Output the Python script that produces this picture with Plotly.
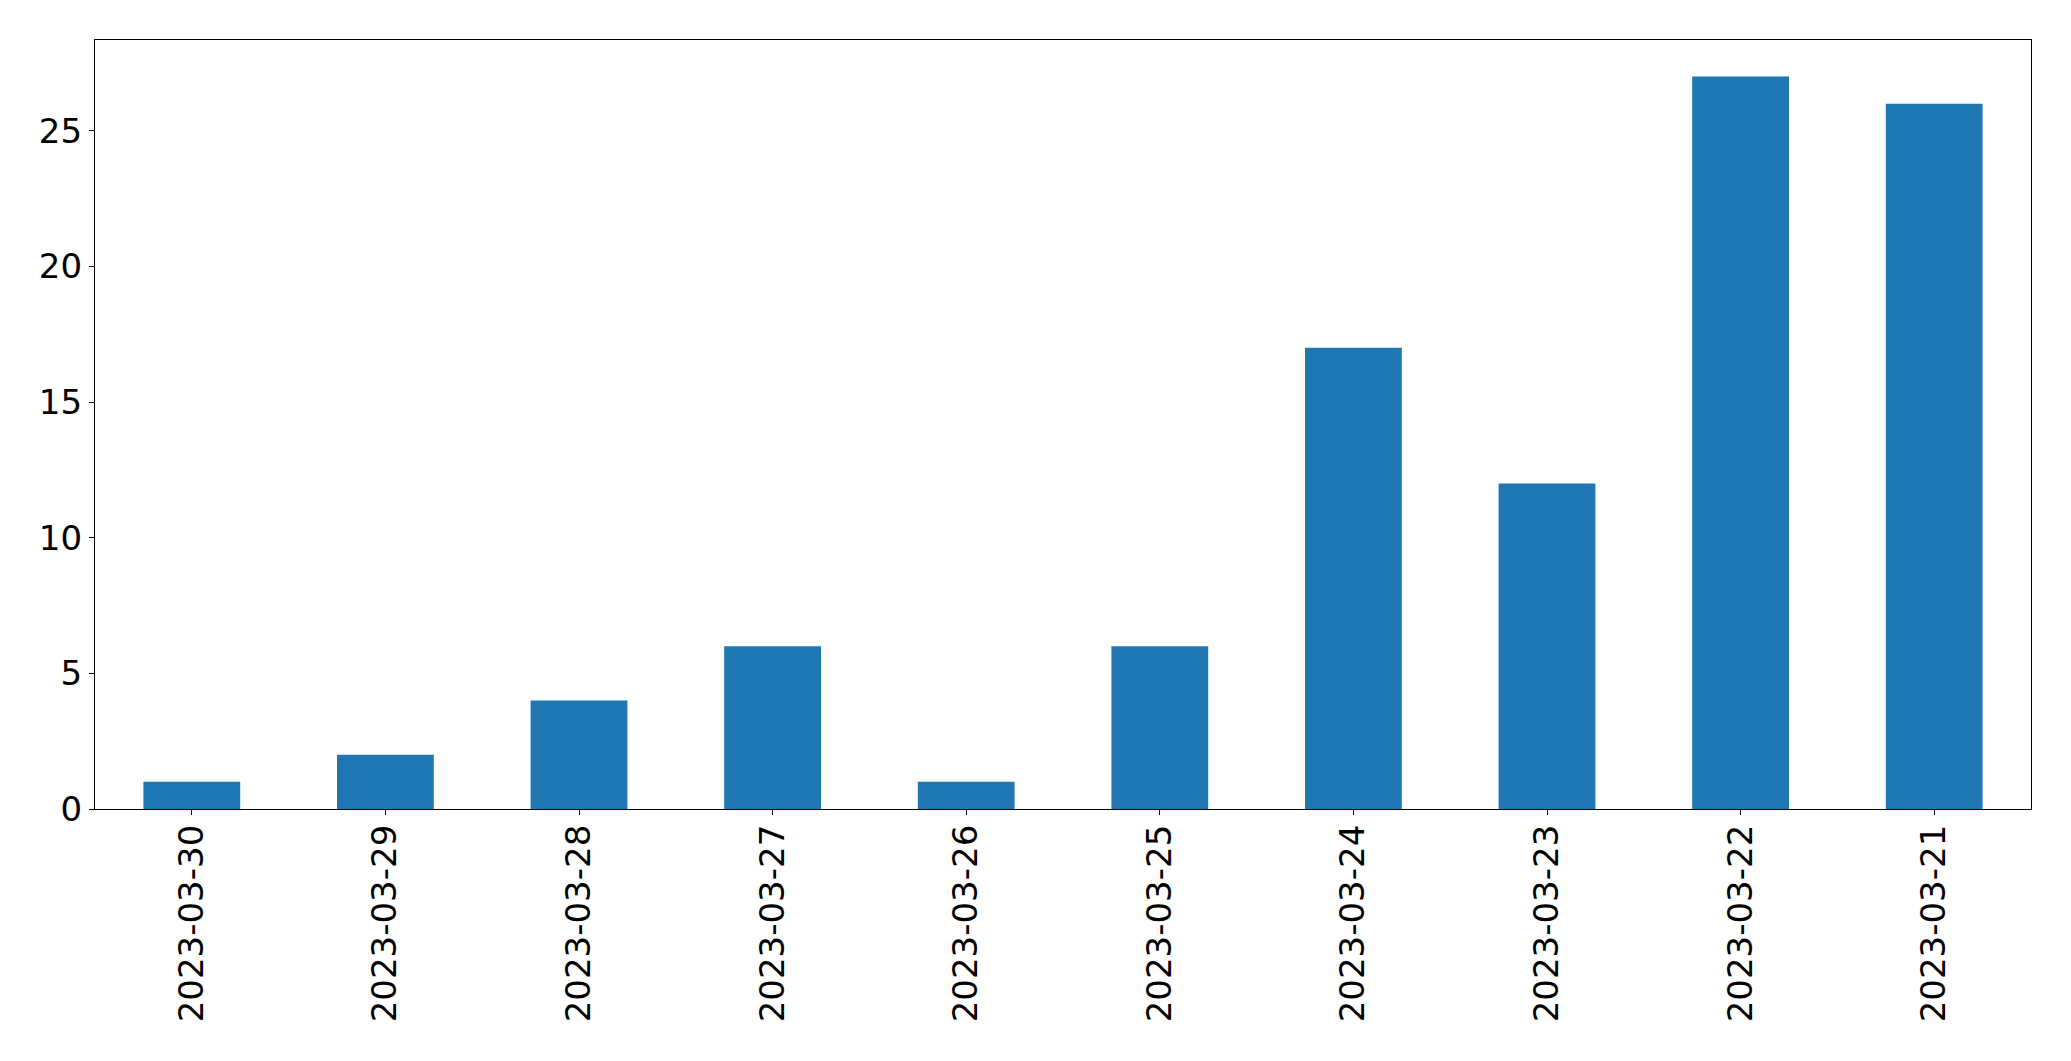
import plotly.graph_objects as go

dates = ["2023-03-30", "2023-03-29", "2023-03-28", "2023-03-27", "2023-03-26",
         "2023-03-25", "2023-03-24", "2023-03-23", "2023-03-22", "2023-03-21"]
counts = [1, 2, 4, 6, 1, 6, 17, 12, 27, 26]
y_ticks = [0, 5, 10, 15, 20, 25]

fig = go.Figure(go.Bar(x=dates, y=counts, width=0.5, marker=dict(color="#1f77b4", line=dict(width=0))))

font = dict(family="DejaVu Sans", size=34, color="black")
fig.update_layout(
    width=2071, height=1061,
    margin=dict(l=86.5, r=47.5, t=31.5, b=260),
    plot_bgcolor="white", paper_bgcolor="white",
    showlegend=False, bargap=0.5,
    font=font,
)
fig.update_xaxes(
    type="category", range=[-0.5, len(dates) - 0.5],
    tickangle=-90, ticks="outside", ticklen=5, tickwidth=1.3, tickcolor="black",
    showline=True, linecolor="black", linewidth=1.3, mirror=True,
    showgrid=False, zeroline=False, tickfont=font, ticklabelstandoff=-4,
)
fig.update_yaxes(
    range=[0, max(counts) * 1.05], tickvals=y_ticks,
    ticks="outside", ticklen=5, tickwidth=1.3, tickcolor="black",
    showline=True, linecolor="black", linewidth=1.3, mirror=True,
    showgrid=False, zeroline=False, tickfont=font,
)
fig.write_html("out.html")
